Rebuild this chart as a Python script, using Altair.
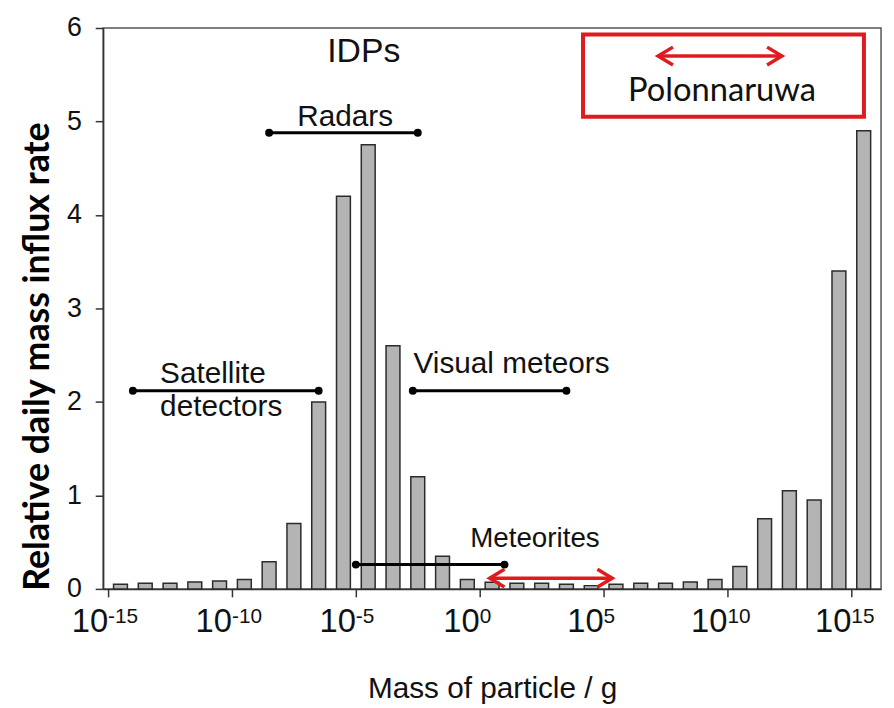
import altair as alt
import pandas as pd

# ---- data ----
mass_log = [-14.5, -13.5, -12.5, -11.5, -10.5, -9.5, -8.5, -7.5, -6.5, -5.5, -4.5, -3.5,
            -2.5, -1.5, -0.5, 0.5, 1.5, 2.5, 3.5, 4.5, 5.5, 6.5, 7.5, 8.5, 9.5, 10.5,
            11.5, 12.5, 13.5, 14.5, 15.5]
influx = [0.05, 0.06, 0.06, 0.075, 0.085, 0.1, 0.29, 0.7, 2.0, 4.2, 4.75, 2.6,
          1.2, 0.35, 0.1, 0.07, 0.06, 0.06, 0.05, 0.035, 0.05, 0.06, 0.06, 0.075, 0.1, 0.24,
          0.75, 1.05, 0.95, 3.4, 4.9]

tick_exps = [-15, -10, -5, 0, 5, 10, 15]

# detection ranges (log10 mass) with dots at ends
range_names = ["Satellite detectors", "Radars", "Visual meteors", "Meteorites"]
range_start = [-14.0, -8.5, -2.7, -5.0]
range_end = [-6.5, -2.5, 3.5, 1.0]
range_level = [2.12, 4.88, 2.12, 0.26]

# labels
label_text = ["IDPs", "Radars", "Satellite", "detectors", "Visual meteors", "Meteorites"]
label_x = [-4.68, -5.43, -12.9, -12.9, -2.67, 2.23]
label_y = [5.74, 5.05, 2.30, 1.94, 2.41, 0.53]
label_align = ["center", "center", "left", "left", "left", "center"]
label_size = [34, 30, 30, 30, 30, 28]

# Polonnaruwa range (red arrows) and legend box
arrow_start = [0.4, 7.2]
arrow_end = [5.35, 12.2]
arrow_level = [0.115, 5.70]
box_x = [4.17, 15.51]
box_y = [5.05, 5.93]
box_label = "Polonnaruwa"
box_label_pos = [9.78, 5.33]

W, H = 785, 566
FONT = "Liberation Sans"

xs = alt.Scale(domain=[-15, 16], nice=False, zero=False)
ys = alt.Scale(domain=[0, 6], nice=False)

bars_df = pd.DataFrame({"m": mass_log, "v": influx})

bars = alt.Chart(bars_df).mark_bar(size=14, color="#b4b4b4", stroke="#2b2b2b", strokeWidth=1.5).encode(
    x=alt.X("m:Q", scale=xs,
            axis=alt.Axis(values=tick_exps, labels=False, title="Mass of particle / g",
                          titleFont=FONT, titleFontSize=30, titleFontWeight="normal", titleColor="#111",
                          titleY=101, titleBaseline="middle",
                          tickSize=8, tickColor="#333", domainColor="#333", domainWidth=1.5,
                          tickWidth=1.5, grid=False)),
    y=alt.Y("v:Q", scale=ys,
            axis=alt.Axis(values=[0, 1, 2, 3, 4, 5, 6], format="d",
                          title="Relative daily mass influx rate",
                          titleFont="Lato", titleFontSize=36, titleFontWeight="bold", titleColor="#000",
                          titleAngle=-90, titleX=-66, titleY=331, titleBaseline="middle",
                          titleAlign="center",
                          labelFont=FONT, labelFontSize=27, labelColor="#111", labelPadding=14,
                          tickSize=8, tickColor="#333", tickWidth=1.5, domainColor="#333",
                          domainWidth=1.5, grid=False)),
)

# x tick labels: "10" + superscript exponent
def exp_str(e):
    return ("-" if e < 0 else "") + str(abs(e))

base_w = 2 * 0.556 * 33
lab_rows = []
for e in tick_exps:
    s = exp_str(e)
    ew = sum(0.333 if c == "-" else 0.556 for c in s) * 21
    lab_rows.append({"e": e, "s": s, "off": (base_w - ew) / 2})
lab_df = pd.DataFrame(lab_rows)

tens = alt.Chart(lab_df).mark_text(font=FONT, fontSize=33, align="right", baseline="alphabetic",
                                   color="#111").encode(
    x=alt.X("e:Q", scale=xs), xOffset=alt.XOffset("off:Q", scale=None),
    y=alt.value(H + 44), text=alt.value("10"))
exps = alt.Chart(lab_df).mark_text(font=FONT, fontSize=21, align="left", baseline="alphabetic",
                                   color="#111").encode(
    x=alt.X("e:Q", scale=xs), xOffset=alt.XOffset("off:Q", scale=None),
    y=alt.value(H + 34), text="s:N")

rng_df = pd.DataFrame({"name": range_names, "a": range_start, "b": range_end, "y": range_level})
rng_lines = alt.Chart(rng_df).mark_rule(color="#000", strokeWidth=3).encode(
    x=alt.X("a:Q", scale=xs), x2="b:Q", y=alt.Y("y:Q", scale=ys))
dots_df = pd.DataFrame({"x": range_start + range_end, "y": range_level + range_level})
rng_dots = alt.Chart(dots_df).mark_circle(color="#000", size=64, opacity=1).encode(
    x=alt.X("x:Q", scale=xs), y=alt.Y("y:Q", scale=ys))

lab_df2 = pd.DataFrame({"t": label_text, "x": label_x, "y": label_y, "al": label_align,
                        "fs": label_size})
labels = []
for al in ["center", "left"]:
    sub = lab_df2[lab_df2["al"] == al]
    labels.append(alt.Chart(sub).mark_text(font=FONT, align=al, baseline="middle",
                                           color="#111").encode(
        x=alt.X("x:Q", scale=xs), y=alt.Y("y:Q", scale=ys), text="t:N",
        size=alt.Size("fs:Q", scale=None, legend=None)))

RED = "#e01b1f"
arr_df = pd.DataFrame({"a": arrow_start, "b": arrow_end, "y": arrow_level})
arr_lines = alt.Chart(arr_df).mark_rule(color=RED, strokeWidth=3.5).encode(
    x=alt.X("a:Q", scale=xs), x2="b:Q", y=alt.Y("y:Q", scale=ys))
head_l = alt.Chart(arr_df).mark_point(shape="M1,-0.6L0,0L1,0.6", size=900, filled=False,
                                      color=RED, strokeWidth=3.5, opacity=1).encode(
    x=alt.X("a:Q", scale=xs), y=alt.Y("y:Q", scale=ys))
head_r = alt.Chart(arr_df).mark_point(shape="M-1,-0.6L0,0L-1,0.6", size=900, filled=False,
                                      color=RED, strokeWidth=3.5, opacity=1).encode(
    x=alt.X("b:Q", scale=xs), y=alt.Y("y:Q", scale=ys))

box_df = pd.DataFrame({"x": [box_x[0]], "x2": [box_x[1]], "y": [box_y[0]], "y2": [box_y[1]]})
box = alt.Chart(box_df).mark_rect(fill="white", stroke=RED, strokeWidth=4).encode(
    x=alt.X("x:Q", scale=xs), x2="x2:Q", y=alt.Y("y:Q", scale=ys), y2="y2:Q")
box_txt = alt.Chart(pd.DataFrame({"t": [box_label], "x": [box_label_pos[0]], "y": [box_label_pos[1]]})).mark_text(
    font="Lato", fontSize=33, align="center", baseline="middle", color="#111").encode(
    x=alt.X("x:Q", scale=xs), y=alt.Y("y:Q", scale=ys), text="t:N")

chart = alt.layer(bars, box, tens, exps, rng_lines, rng_dots, *labels, arr_lines, head_l, head_r,
                  box_txt).properties(
    width=W, height=H, autosize=alt.AutoSizeParams(type="none"),
    padding={"left": 96, "top": 17, "right": 5, "bottom": 117},
    background="white",
).configure_view(stroke="#555", strokeWidth=1.5)

chart.save("out.html", embed_options={"renderer": "svg", "actions": False})
